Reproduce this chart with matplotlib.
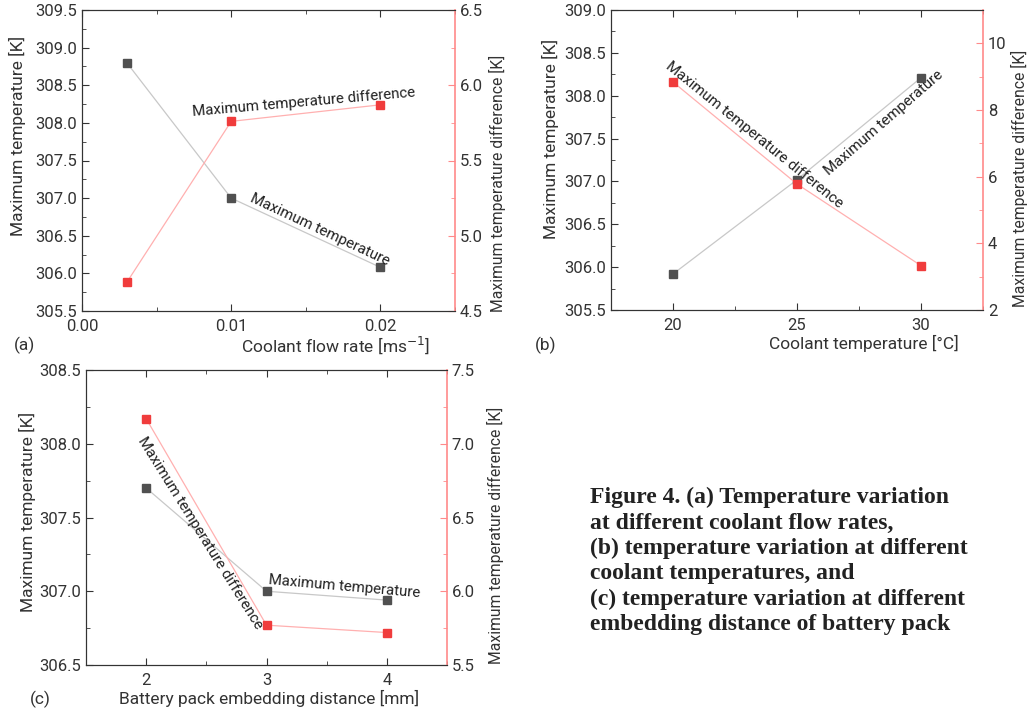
import matplotlib
matplotlib.use("Agg")
import matplotlib.pyplot as plt
from matplotlib.ticker import MultipleLocator, FormatStrFormatter

plt.rcParams['font.family'] = ['Roboto', 'DejaVu Sans']

# (a) coolant flow rate
flow = [0.003, 0.01, 0.02]
flow_tmax = [308.8, 307.0, 306.08]
flow_dt = [4.69, 5.76, 5.87]

# (b) coolant temperature
ctemp = [20, 25, 30]
ctemp_tmax = [305.92, 307.02, 308.21]
ctemp_dt = [8.84, 5.78, 3.33]

# (c) embedding distance
dist = [2, 3, 4]
dist_tmax = [307.70, 307.0, 306.94]
dist_dt = [7.17, 5.77, 5.72]

caption = ("Figure 4. (a) Temperature variation\n"
           "at different coolant flow rates,\n"
           "(b) temperature variation at different\n"
           "coolant temperatures, and\n"
           "(c) temperature variation at different\n"
           "embedding distance of battery pack")

W, H = 1028, 711
dark = '#333333'
red_spine = '#ff8a8a'
fs_tick = 12
fs_lab = 12.5


def panel(rect, x, tmax, dt, xlim, xmaj, xmin, y1, y1maj, y1min, y2, y2maj, y2min,
          xfmt, y2fmt, xlabel, xlab_xy, ylab_l, ylab_r, letter, letter_xy):
    ax = fig.add_axes(rect)
    ax2 = ax.twinx()
    ax.plot(x, tmax, color='#c8c8c8', lw=0.9, marker='s', ms=5.5,
            mfc='#505050', mec='#505050', zorder=3)
    ax2.plot(x, dt, color='#ffb0b0', lw=0.9, marker='s', ms=5.5,
             mfc='#f03c3c', mec='#f03c3c', zorder=3)
    ax.set_xlim(*xlim)
    ax.set_ylim(*y1)
    ax2.set_ylim(*y2)
    ax.xaxis.set_major_locator(MultipleLocator(xmaj))
    ax.xaxis.set_minor_locator(MultipleLocator(xmin))
    ax.xaxis.set_major_formatter(FormatStrFormatter(xfmt))
    ax.yaxis.set_major_locator(MultipleLocator(y1maj))
    ax.yaxis.set_minor_locator(MultipleLocator(y1min))
    ax.yaxis.set_major_formatter(FormatStrFormatter('%.1f'))
    ax2.yaxis.set_major_locator(MultipleLocator(y2maj))
    ax2.yaxis.set_minor_locator(MultipleLocator(y2min))
    ax2.yaxis.set_major_formatter(FormatStrFormatter(y2fmt))
    for s in ['left', 'bottom', 'top']:
        ax.spines[s].set_color(dark)
        ax2.spines[s].set_color(dark)
    ax.spines['right'].set_visible(False)
    ax2.spines['right'].set_color(red_spine)
    ax2.spines['right'].set_linewidth(1.2)
    ax.tick_params(axis='x', which='both', direction='in', top=True, colors=dark,
                   labelsize=fs_tick, pad=6)
    ax.tick_params(axis='x', which='major', length=5)
    ax.tick_params(axis='x', which='minor', length=3)
    ax.tick_params(axis='y', which='both', direction='in', colors=dark,
                   labelsize=fs_tick)
    ax.tick_params(axis='y', which='major', length=5)
    ax.tick_params(axis='y', which='minor', length=3)
    ax2.tick_params(axis='y', which='both', direction='in', color=red_spine,
                    labelcolor=dark, labelsize=fs_tick)
    ax2.tick_params(axis='y', which='major', length=5)
    ax2.tick_params(axis='y', which='minor', length=3)
    ax.set_ylabel('Maximum temperature [K]', fontsize=fs_lab, color=dark, va='center')
    ax.yaxis.set_label_coords(*ylab_l)
    ax2.set_ylabel('Maximum temperature difference [K]', fontsize=11.3, color=dark,
                   va='center')
    ax2.yaxis.set_label_coords(*ylab_r)
    ax.set_xlabel(xlabel, fontsize=fs_lab, color=dark, va='center')
    ax.xaxis.set_label_coords(*xlab_xy)
    fig.text(letter_xy[0] / W, 1 - letter_xy[1] / H, letter, fontsize=fs_lab,
             color=dark, ha='left', va='center')
    return ax, ax2


fig = plt.figure(figsize=(W / 100, H / 100), dpi=100)

panel([82 / W, 1 - 311 / H, 373 / W, 301 / H], flow, flow_tmax, flow_dt,
      (0, 0.025), 0.01, 0.005, (305.5, 309.5), 0.5, 0.25, (4.5, 6.5), 0.5, 0.25,
      '%.2f', '%.1f', 'Coolant flow rate [ms$^{-1}$]', (0.68, -0.113),
      (-0.172, 0.58), (1.113, 0.425), '(a)', (14, 345))

panel([611 / W, 1 - 310 / H, 372 / W, 300 / H], ctemp, ctemp_tmax, ctemp_dt,
      (17.5, 32.5), 5, 2.5, (305.5, 309.0), 0.5, 0.25, (2, 11), 2, 1,
      '%d', '%d', 'Coolant temperature [°C]', (0.68, -0.11),
      (-0.164, 0.57), (1.097, 0.44), '(b)', (535, 345))

panel([86 / W, 1 - 665 / H, 361 / W, 295 / H], dist, dist_tmax, dist_dt,
      (1.5, 4.5), 1, 0.5, (306.5, 308.5), 0.5, 0.25, (5.5, 7.5), 0.5, 0.25,
      '%d', '%.1f', 'Battery pack embedding distance [mm]', (0.507, -0.112),
      (-0.161, 0.52), (1.133, 0.44), '(c)', (30, 699))

# series labels drawn on the lines
ann = [
    ('Maximum temperature difference', 304, 102, 5),
    ('Maximum temperature', 320, 230, -25),
    ('Maximum temperature difference', 754, 135, -39),
    ('Maximum temperature', 884, 123, 41),
    ('Maximum temperature difference', 200, 533, -58),
    ('Maximum temperature', 344, 587, -5),
]
for txt, px, py, rot in ann:
    fig.text(px / W, 1 - py / H, txt, fontsize=10.8, color='#222222', rotation=rot,
             ha='center', va='center', rotation_mode='anchor')

fig.text(590 / W, 1 - 561 / H, caption, fontsize=17, fontweight='bold',
         family='Liberation Serif', color='#222222', ha='left', va='center',
         linespacing=1.26)

fig.savefig('out.png', dpi=100)
